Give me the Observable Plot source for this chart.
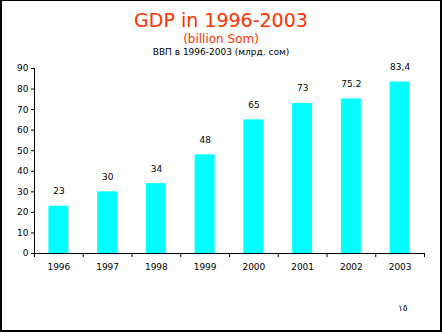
<!DOCTYPE html>
<html>
<head>
<meta charset="utf-8">
<script src="https://cdn.jsdelivr.net/npm/d3@7"></script>
<script src="https://cdn.jsdelivr.net/npm/@observablehq/plot@0.6"></script>
<style>
  html, body { margin: 0; padding: 0; background: #fff; }
  #wrap { position: relative; width: 442px; height: 332px; overflow: hidden; font-family: "DejaVu Sans", sans-serif; }
  #border { position: absolute; left: 0; top: 0; width: 442px; height: 332px; box-sizing: border-box;
            border-style: solid; border-color: #000; border-width: 1px 2px 2px 2px; pointer-events: none; }
  .t { position: absolute; left: 0; width: 442px; text-align: center; white-space: nowrap; }
  #title { top: 11px; font-size: 19px; line-height: 19px; color: #ff3300; }
  #sub { top: 33px; font-size: 12px; line-height: 12px; color: #ff3300; }
  #ru { top: 48px; font-size: 9px; line-height: 9px; color: #000; }
  #page { position: absolute; left: 398px; top: 304px; font-size: 9px; line-height: 9px; color: #000; }
  #chart { position: absolute; left: 0; top: 58px; }
</style>
</head>
<body>
<div id="wrap">
  <div class="t" id="title">GDP in 1996-2003</div>
  <div class="t" id="sub">(billion Som)</div>
  <div class="t" id="ru">ВВП в 1996-2003 (млрд. сом)</div>
  <div id="chart"></div>
  <div id="page">١٥</div>
  <div id="border"></div>
</div>
<script>
const years = [1996, 1997, 1998, 1999, 2000, 2001, 2002, 2003];
const gdp = [23, 30, 34, 48, 65, 73, 75.2, 83.4];
const valueLabels = ["23", "30", "34", "48", "65", "73", "75.2", "83,4"];
const yTicks = [0, 10, 20, 30, 40, 50, 60, 70, 80, 90];

const data = years.map((y, i) => ({year: y, value: gdp[i], label: valueLabels[i]}));
const xMin = years[0] - 0.5, xMax = years[years.length - 1] + 0.5;
const boundaries = d3.range(xMin, xMax + 0.01, 1);
const halfBar = 0.205;

const chart = Plot.plot({
  width: 442,
  height: 274,
  marginTop: 10,
  marginBottom: 79,
  marginLeft: 34,
  marginRight: 18,
  style: {fontFamily: "DejaVu Sans, sans-serif", fontSize: "9px", color: "#000", background: "transparent"},
  x: {type: "linear", domain: [xMin, xMax]},
  y: {domain: [0, 90]},
  marks: [
    Plot.rectY(data, {x1: d => d.year - halfBar, x2: d => d.year + halfBar, y: "value", fill: "#00ffff"}),
    Plot.text(data, {x: "year", y: "value", text: "label", dy: -15, fill: "#000", fontSize: 9}),
    Plot.axisY({ticks: yTicks, tickSize: 3, tickPadding: 3, tickFormat: d => String(d), label: null}),
    Plot.axisX({ticks: boundaries, tickSize: 4, tickFormat: () => "", label: null}),
    Plot.axisX({ticks: years, tickSize: 0, tickPadding: 10, tickFormat: d => String(d), label: null}),
    Plot.ruleX([xMin], {stroke: "#000"}),
    Plot.ruleY([0], {stroke: "#000"})
  ]
});
document.getElementById("chart").appendChild(chart);
</script>
</body>
</html>
